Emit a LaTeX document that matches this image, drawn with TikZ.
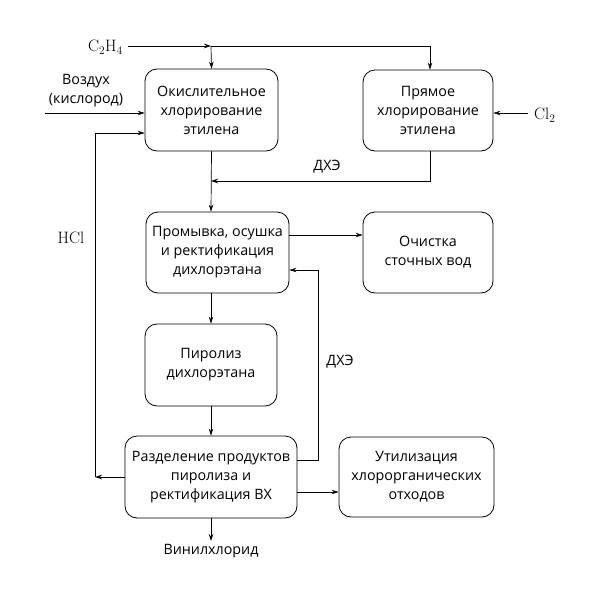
\documentclass[tikz,border=0pt]{standalone}
\usepackage{fontspec}
\setsansfont{Open Sans}
\usetikzlibrary{arrows.meta}
\begin{document}
\begin{tikzpicture}[x=1pt,y=-1pt,
  blk/.style={draw, line width=0.8pt, rounded corners=12pt, align=center,
    font=\sffamily\fontsize{14.3}{19}\selectfont, inner sep=0pt},
  lbl/.style={font=\sffamily\fontsize{14.3}{19}\selectfont, align=center, inner sep=0pt},
  chem/.style={font=\fontsize{16.5}{19}\selectfont, inner sep=0pt},
  ln/.style={line width=0.7pt},
  arr/.style={ln, -{Stealth[length=7pt,width=4.5pt]}}]
\useasboundingbox (0,0) rectangle (600,600);
\node[blk, minimum width=133pt, minimum height=82pt] (b1) at (211.5,110) {Окислительное\\хлорирование\\этилена};
\node[blk, minimum width=130pt, minimum height=81pt] (b2) at (428,110.5) {Прямое\\хлорирование\\этилена};
\node[blk, minimum width=143pt, minimum height=81pt] (b3) at (217.5,252.5) {Промывка, осушка\\и ректификация\\дихлорэтана};
\node[blk, minimum width=130pt, minimum height=81pt] (b4) at (428,252.5) {Очистка\\сточных вод};
\node[blk, minimum width=132pt, minimum height=82pt] (b5) at (211,365) {Пиролиз\\дихлорэтана};
\node[blk, minimum width=172pt, minimum height=82pt] (b6) at (211,477) {Разделение продуктов\\пиролиза и\\ректификация ВХ};
\node[blk, minimum width=155pt, minimum height=80pt] (b7) at (416.5,477) {Утилизация\\хлорорганических\\отходов};
% labels
\node[chem, anchor=east] (c2h4) at (123,47) {$\mathrm{C_2H_4}$};
\node[chem, anchor=west] (cl2) at (534,115) {$\mathrm{Cl_2}$};
\node[chem] (hcl) at (71,238) {HCl};
\node[lbl] (air) at (86,91) {Воздух\\(кислород)};
\node[lbl] (dxe1) at (327,167) {ДХЭ};
\node[lbl] (dxe2) at (340,362) {ДХЭ};
\node[lbl] (vc) at (211,551) {Винилхлорид};
% coordinates
\coordinate (j1) at (211,46);
\coordinate (j2) at (430,46);
\coordinate (j3) at (211,181);
\coordinate (j4) at (430,181);
\coordinate (h1) at (95,477);
\coordinate (h2) at (95,133);
\coordinate (d1) at (318,460);
\coordinate (d2) at (318,270);
\coordinate (a0) at (45,113);
\coordinate (v1) at (211,541);
\coordinate (c0) at (128,46);
\coordinate (k0) at (528,113);
% C2H4 feed
\draw[arr] (c0) -- (j1);
\draw[ln] (j1) -- (j2);
\draw[arr] (j1) -- (b1.north);
\draw[arr] (j2) -- (j2 |- b2.north);
% air
\draw[arr] (a0) -- (a0 -| b1.west);
% Cl2
\draw[arr] (k0) -- (k0 -| b2.east);
% DXE from direct chlorination
\draw[ln] (b2.south -| j4) -- (j4) -- ++(-200,0);
\draw[arr] (j4) ++(-200,0) -- (j3);
\draw[arr] (b1.south) -- (j3 |- b3.north);
% to waste water
\draw[arr] (b3.east |- 0,235) -- (b4.west |- 0,235);
\draw[arr] (j3 |- b3.south) -- (j3 |- b5.north);
\draw[arr] (b5.south) -- (b6.north);
% DXE recycle
\draw[ln] (b6.east |- d1) -- (d1) -- (d2);
\draw[arr] (d2) -- (b3.east |- d2);
% HCl recycle
\draw[arr] (b6.west |- h1) -- (h1);
\draw[ln] (h1) -- (h2);
\draw[arr] (h2) -- (b1.west |- h2);
% to utilization
\draw[arr] (b6.east |- 0,492) -- (b7.west |- 0,492);
% product
\draw[arr] (b6.south) -- (v1);
\end{tikzpicture}
\end{document}
